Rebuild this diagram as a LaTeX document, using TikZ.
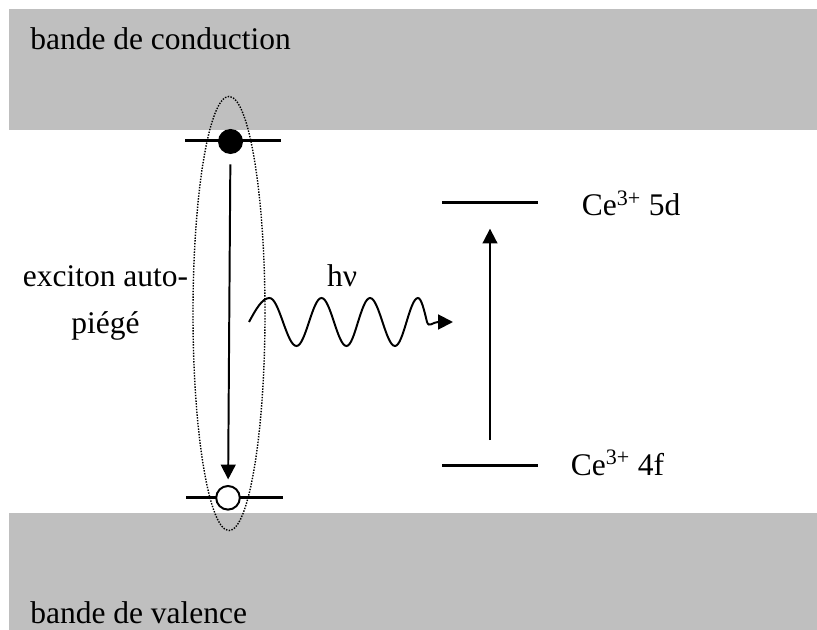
\documentclass[tikz,border=0pt]{standalone}
\usepackage{fontspec}
\setmainfont{Liberation Serif}
\usetikzlibrary{arrows.meta,shapes,positioning}

\begin{document}
\begin{tikzpicture}[x=0.025cm, y=-0.025cm,
    band/.style={fill=black!25, draw=none},
    lbl/.style={font=\fontsize{22.4}{33.4}\selectfont, inner sep=0pt},
    level/.style={rectangle, fill=black, minimum width=2.4cm, minimum height=0.075cm, inner sep=0pt},
    trans/.style={line width=1.4pt, -{Triangle[length=10.5pt, width=10.5pt]}}]
    \useasboundingbox (0,0) rectangle (817,630);
    % Bands
    \fill[band] (9,9) rectangle (817,130.5);
    \fill[band] (9,512.7) rectangle (817,630);
    \node[lbl, anchor=base west] (cb) at (30,50) {bande de conduction};
    \node[lbl, anchor=base west] (vb) at (30,623) {bande de valence};

    % Self-trapped exciton
    \node[draw, densely dotted, line width=1pt, ellipse, minimum width=1.8cm, minimum height=10.85cm] (ste) at (229,313.5) {};
    \node[level] (upper) at (233,140.5) {};
    \node[level] (lower) at (234.5,497.7) {};
    \node[circle, fill=black, minimum size=0.625cm, inner sep=0pt] (elec) at (230.5,141.5) {};
    \node[circle, draw, fill=white, line width=1.4pt, minimum size=0.59cm, inner sep=0pt] (hole) at (228,497.8) {};
    \draw[trans, shorten <=0.25cm, shorten >=0.14cm] (elec) -- (hole);
    \node[lbl, align=center, anchor=base] (stelbl) at (105.5,333.5) {exciton auto-\\pi\'eg\'e};

    % Photon
    \coordinate (ws) at (249,322);
    \coordinate (we) at (453,322);
    \node[lbl, anchor=base] (hnu) at (342,287) {h\symbol{"03BD}};
    \draw[line width=1.4pt, -{Triangle[length=10.5pt, width=10.5pt]}] (ws)
        sin (269.5,298) cos (283,322) sin (296.5,346) cos (309,322)
        sin (321.5,298) cos (334,322) sin (346.5,346) cos (358,322)
        sin (370,298) cos (382.5,322) sin (395,346) cos (406.5,322)
        sin (418,298) cos (427,322) .. controls (429,328) and (433,322) .. (438,322) -- (we);

    % Ce3+ levels
    \node[level] (ce5d) at (490,202.5) {};
    \node[level] (ce4f) at (490,465.5) {};
    \draw[trans, shorten <=0.59cm, shorten >=0.61cm] (ce4f) -- (ce5d);
    \node[lbl, anchor=base west] (lbl5d) at (581.5,216) {Ce\textsuperscript{3+} 5d};
    \node[lbl, anchor=base west] (lbl4f) at (570.5,475) {Ce\textsuperscript{3+} 4f};
\end{tikzpicture}
\end{document}
